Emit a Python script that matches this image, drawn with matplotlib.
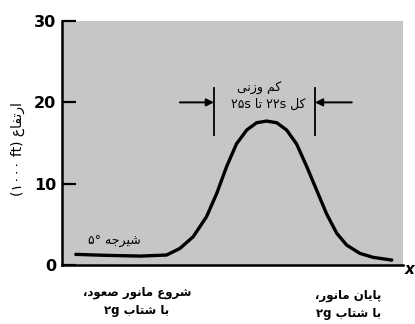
import matplotlib.pyplot as plt

# curve (x in arbitrary 0..100 units, altitude in 1000 ft)
dist = [4.1, 13.1, 22.9, 30.7, 34.6, 38.5, 42.4, 45.4, 48.3, 51.2, 54.2,
        57.1, 60.0, 63.0, 65.9, 68.8, 71.8, 74.7, 77.6, 80.6, 83.5, 87.4,
        91.3, 96.7]
alt = [1.31, 1.19, 1.10, 1.23, 2.04, 3.48, 5.93, 8.8, 12.1, 14.9, 16.6,
       17.5, 17.7, 17.5, 16.6, 14.9, 12.1, 9.2, 6.3, 3.9, 2.45, 1.43,
       0.94, 0.61]

yticks = [0, 10, 20, 30]
# zero-g window markers
window = [44.6, 74.2]
window_y = 20

# Persian labels, written in visual (left-to-right) order with presentation forms
ylabel_txt = '(\u06F1\u06F0\u06F0\u06F0 ft) \uFEC9\uFE8E\uFED4\uFE97\uFEAD\uFE8D'
dive_txt = '\u06F5\u00B0 \uFEEA\uFE9F\uFEAE\uFEF4\uFEB7'
zerog_txt1 = '\uFEF0\uFEE7\uFEAF\uFEED \uFEE2\uFEDB'
zerog_txt2 = '\u06F2\u06F5s \uFE8E\uFE97 \u06F2\u06F2s \uFEDE\uFEDB'
start_txt = ('\u060C\uFEA9\uFEEE\uFECC\uFEBB \uFEAD\uFEEE\uFEE7\uFE8E\uFEE3 '
             '\uFEC9\uFEED\uFEAE\uFEB7\n'
             '\u06F2g \uFE8F\uFE8E\uFE98\uFEB7 \uFE8E\uFE91')
end_txt = ('\u060C\uFEAD\uFEEE\uFEE7\uFE8E\uFEE3 \uFEE5\uFE8E\uFEF3\uFE8E\uFB58\n'
           '\u06F2g \uFE8F\uFE8E\uFE98\uFEB7 \uFE8E\uFE91')

fig = plt.figure(figsize=(4.15, 3.24), dpi=100)
ax = fig.add_axes([0.149, 0.182, 0.822, 0.753])
ax.set_facecolor('#c6c6c6')

ax.plot(dist, alt, color='black', lw=2.4, solid_capstyle='round',
        solid_joinstyle='round')

ax.set_xlim(0, 100)
ax.set_ylim(0, 30)
ax.set_yticks(yticks)
ax.set_yticklabels([str(t) for t in yticks], fontsize=11.5, fontweight='bold')
ax.set_xticks([])
ax.tick_params(axis='y', direction='in', length=10, width=1.6, pad=4)

for s in ['top', 'right']:
    ax.spines[s].set_visible(False)
ax.spines['left'].set_linewidth(1.8)
ax.spines['bottom'].set_linewidth(1.8)

# zero-g window: vertical bars and arrows
for xv in window:
    ax.plot([xv, xv], [16.0, 21.8], color='black', lw=1.3)
ax.annotate('', xy=(window[0], window_y), xytext=(34.6, window_y),
            arrowprops=dict(arrowstyle='-|>', color='black', lw=1.4,
                            mutation_scale=11, shrinkA=0, shrinkB=0))
ax.annotate('', xy=(window[1], window_y), xytext=(85.0, window_y),
            arrowprops=dict(arrowstyle='-|>', color='black', lw=1.4,
                            mutation_scale=11, shrinkA=0, shrinkB=0))

ax.text(57.8, 21.7, zerog_txt1, ha='center', va='center', fontsize=9)
ax.text(60.5, 19.8, zerog_txt2, ha='center', va='center', fontsize=9)
ax.text(15.5, 2.9, dive_txt, ha='center', va='center', fontsize=9)

ax.text(22, -2.6, start_txt, ha='center', va='top', fontsize=8.5,
        fontweight='bold', linespacing=1.45)
ax.text(84, -3.0, end_txt, ha='center', va='top', fontsize=8.5,
        fontweight='bold', linespacing=1.45)
ax.text(100.4, -0.6, 'x', ha='left', va='center', fontsize=11,
        fontweight='bold', fontstyle='italic', clip_on=False)

fig.text(0.042, 0.54, ylabel_txt, rotation=90, ha='center', va='center',
         fontsize=10)

fig.savefig('out.png', dpi=100)
